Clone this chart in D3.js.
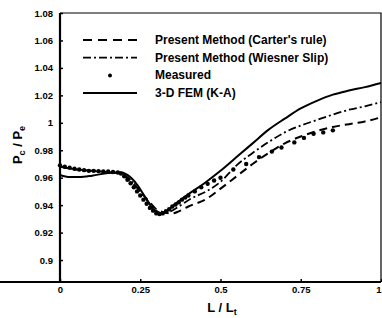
<!DOCTYPE html>
<html>
<head>
<meta charset="utf-8">
<script src="https://cdn.jsdelivr.net/npm/d3@7"></script>
<style>
  body { margin: 0; background: #fff; }
  svg text { font-family: "Liberation Sans", Arial, sans-serif; fill: #000; }
</style>
</head>
<body>
<script>
const width = 382;
const height = 318;

// x tick values and labels
const xTicks = [0, 0.25, 0.5, 0.75, 1];
const xTickLabels = ["0", "0.25", "0.5", "0.75", "1"];
const yTicks = [0.9, 0.92, 0.94, 0.96, 0.98, 1, 1.02, 1.04, 1.06, 1.08];
const yTickLabels = ["0.9", "0.92", "0.94", "0.96", "0.98", "1", "1.02", "1.04", "1.06", "1.08"];

// 3-D FEM (K-A), solid
const femX = [0, 0.03, 0.06, 0.1, 0.15, 0.19, 0.21, 0.24, 0.27, 0.29, 0.31, 0.33, 0.36, 0.4, 0.45, 0.5, 0.55, 0.6, 0.65, 0.7, 0.75, 0.8, 0.85, 0.9, 0.95, 1.0];
const femY = [0.962, 0.9605, 0.9605, 0.9615, 0.9635, 0.964, 0.962, 0.955, 0.944, 0.937, 0.9335, 0.935, 0.941, 0.948, 0.956, 0.965, 0.975, 0.985, 0.995, 1.003, 1.0105, 1.016, 1.0205, 1.0235, 1.026, 1.029];

// Present Method (Wiesner Slip), dash-dot
const wiesnerX = [0, 0.05, 0.1, 0.15, 0.19, 0.22, 0.25, 0.28, 0.3, 0.32, 0.34, 0.37, 0.41, 0.456, 0.5, 0.55, 0.6, 0.65, 0.7, 0.75, 0.8, 0.85, 0.9, 0.95, 1.0];
const wiesnerY = [0.968, 0.966, 0.965, 0.964, 0.963, 0.958, 0.95, 0.941, 0.936, 0.934, 0.935, 0.939, 0.945, 0.95, 0.957, 0.969, 0.978, 0.986, 0.993, 0.998, 1.002, 1.006, 1.0095, 1.012, 1.015];

// Present Method (Carter's rule), dashed
const carterX = [0, 0.05, 0.1, 0.15, 0.19, 0.22, 0.25, 0.28, 0.3, 0.33, 0.35, 0.37, 0.4, 0.456, 0.5, 0.55, 0.6, 0.65, 0.7, 0.75, 0.8, 0.85, 0.9, 0.95, 1.0];
const carterY = [0.968, 0.966, 0.965, 0.964, 0.963, 0.958, 0.95, 0.942, 0.937, 0.9345, 0.934, 0.9355, 0.939, 0.9445, 0.952, 0.961, 0.97, 0.978, 0.985, 0.99, 0.994, 0.997, 0.999, 1.001, 1.004];

// Measured points
const measX = [0, 0.015, 0.03, 0.045, 0.06, 0.075, 0.09, 0.105, 0.12, 0.135, 0.15, 0.165, 0.18, 0.19, 0.2, 0.21, 0.22, 0.23, 0.24, 0.25, 0.26, 0.27, 0.28, 0.29, 0.3, 0.31, 0.32, 0.33, 0.34, 0.35, 0.36, 0.37, 0.38, 0.39, 0.4, 0.42, 0.44, 0.46, 0.48, 0.5, 0.54, 0.58, 0.62, 0.66, 0.69, 0.73, 0.76, 0.79, 0.82, 0.85];
const measY = [0.969, 0.968, 0.9672, 0.9665, 0.966, 0.9655, 0.965, 0.965, 0.9648, 0.9645, 0.9645, 0.9642, 0.9638, 0.963, 0.961, 0.9585, 0.956, 0.953, 0.95, 0.947, 0.944, 0.941, 0.938, 0.936, 0.934, 0.9335, 0.934, 0.9355, 0.937, 0.939, 0.9405, 0.942, 0.944, 0.9455, 0.947, 0.95, 0.953, 0.9555, 0.958, 0.96, 0.966, 0.97, 0.975, 0.979, 0.982, 0.9857, 0.989, 0.992, 0.993, 0.9945];

const legendNames = ["Present Method (Carter's rule)", "Present Method (Wiesner Slip)", "Measured", "3-D FEM (K-A)"];

const svg = d3.select("body").append("svg")
  .attr("width", width)
  .attr("height", height);

const x = d3.scaleLinear().domain([0, 1]).range([60, 381]);
const y = d3.scaleLinear().domain([0.884, 1.08]).range([282, 13]);

// frame (top and right)
svg.append("path")
  .attr("d", `M${x(0)},${y(1.08)}H${x(1)}V${y(0.884)}`)
  .attr("fill", "none")
  .attr("stroke", "#000")
  .attr("stroke-width", 1.2);

const xAxis = svg.append("g")
  .attr("transform", `translate(0,${y(0.884)})`)
  .call(d3.axisBottom(x).tickValues(xTicks).tickSize(-3).tickPadding(4)
    .tickFormat((d, i) => xTickLabels[i]));

const yAxis = svg.append("g")
  .attr("transform", `translate(${x(0)},0)`)
  .call(d3.axisLeft(y).tickValues(yTicks).tickSize(-3).tickPadding(7)
    .tickFormat((d, i) => yTickLabels[i]));

[xAxis, yAxis].forEach((g) => {
  g.select(".domain").attr("stroke-width", 2.2);
  g.selectAll(".tick line").attr("stroke-width", 1.5);
  g.selectAll(".tick text")
    .attr("font-size", 9.5)
    .attr("font-weight", "bold")
    .attr("font-family", "Liberation Sans, Arial, sans-serif");
});
yAxis.select(".domain").attr("d", `M0,${y(1.08)}V${y(0.884)}`);
xAxis.select(".domain").attr("d", `M0,0H${x(1)}`);
// last x label sits at the right edge
xAxis.selectAll(".tick text").filter((d) => d === 1).attr("text-anchor", "end");

const line = d3.line()
  .x((d) => x(d[0]))
  .y((d) => y(d[1]))
  .curve(d3.curveMonotoneX);

const zip = (xs, ys) => xs.map((v, i) => [v, ys[i]]);

svg.append("path")
  .datum(zip(carterX, carterY))
  .attr("d", line)
  .attr("fill", "none")
  .attr("stroke", "#000")
  .attr("stroke-width", 2)
  .attr("stroke-dasharray", "8,5");

svg.append("path")
  .datum(zip(wiesnerX, wiesnerY))
  .attr("d", line)
  .attr("fill", "none")
  .attr("stroke", "#000")
  .attr("stroke-width", 1.8)
  .attr("stroke-dasharray", "8,3,2,3");

svg.append("path")
  .datum(zip(femX, femY))
  .attr("d", line)
  .attr("fill", "none")
  .attr("stroke", "#000")
  .attr("stroke-width", 2);

svg.append("g")
  .selectAll("circle")
  .data(zip(measX, measY))
  .enter()
  .append("circle")
  .attr("cx", (d) => x(d[0]))
  .attr("cy", (d) => y(d[1]))
  .attr("r", 2.2)
  .attr("fill", "#000");

// legend
const legend = svg.append("g").attr("transform", "translate(83,40)");
const rowH = 17.7;
legendNames.forEach((name, i) => {
  const row = legend.append("g").attr("transform", `translate(0,${i * rowH})`);
  if (i === 2) {
    row.append("circle").attr("cx", 27).attr("cy", 0).attr("r", 2).attr("fill", "#000");
  } else {
    const ln = row.append("line")
      .attr("x1", 0).attr("x2", 54).attr("y1", 0).attr("y2", 0)
      .attr("stroke", "#000").attr("stroke-width", 2);
    if (i === 0) ln.attr("stroke-dasharray", "9,6");
    if (i === 1) ln.attr("stroke-dasharray", "8,3,2,3").attr("stroke-width", 1.8);
  }
  row.append("text")
    .attr("x", 72)
    .attr("y", 4)
    .attr("font-size", 12)
    .attr("font-weight", "bold")
    .text(name);
});

// axis titles
const yTitle = svg.append("text")
  .attr("transform", "translate(22,145) rotate(-90)")
  .attr("text-anchor", "middle")
  .attr("font-size", 13)
  .attr("font-weight", "bold");
yTitle.append("tspan").text("P");
yTitle.append("tspan").attr("font-size", 9).attr("dy", 3).text("c");
yTitle.append("tspan").attr("dy", -3).text(" / P");
yTitle.append("tspan").attr("font-size", 9).attr("dy", 3).text("e");

const xTitle = svg.append("text")
  .attr("x", 222)
  .attr("y", 312)
  .attr("text-anchor", "middle")
  .attr("font-size", 13)
  .attr("font-weight", "bold");
xTitle.append("tspan").text("L / L");
xTitle.append("tspan").attr("font-size", 9).attr("dy", 3).text("t");
</script>
</body>
</html>
